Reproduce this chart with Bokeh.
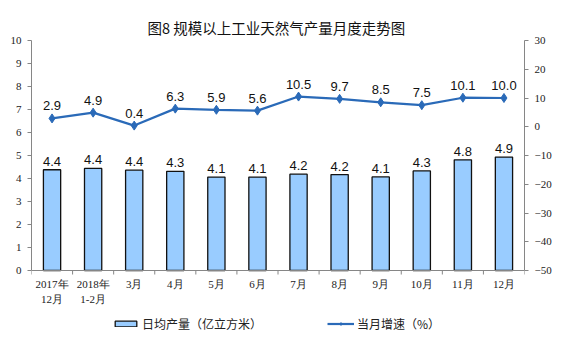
from bokeh.plotting import figure
from bokeh.models import (ColumnDataSource, Range1d, LinearAxis, FixedTicker, Legend, LegendItem, Title, Span)
from bokeh.core.properties import value
from bokeh.embed import file_html
from bokeh.resources import INLINE

categories = ["2017年\n12月", "2018年\n1-2月", "3月", "4月", "5月", "6月", "7月", "8月", "9月", "10月", "11月", "12月"]
daily_output = [4.38, 4.44, 4.36, 4.31, 4.06, 4.06, 4.19, 4.17, 4.07, 4.33, 4.81, 4.93]
growth = [2.9, 4.9, 0.4, 6.3, 5.9, 5.6, 10.5, 9.7, 8.5, 7.5, 10.1, 10.0]
left_ticks = list(range(0, 11))
right_ticks = list(range(-50, 31, 10))

# layout geometry (pixels)
PLOT_H = 230          # height of the value area (0..10)
BELOW_H = 87          # room below the value area for category labels and legend
L_MIN, L_MAX = 0, 10
R_MIN, R_MAX = -50, 30
l_unit = (L_MAX - L_MIN) / PLOT_H
r_unit = (R_MAX - R_MIN) / PLOT_H

n = len(categories)
xs = [i + 0.5 for i in range(n)]
bounds = list(range(n + 1))
src = ColumnDataSource(dict(
    x=xs, cat=categories, zero=[0] * n, val=daily_output, vlab=[f"{v:.1f}" for v in daily_output],
    g=growth, glab=[f"{v:.1f}" for v in growth]))

p = figure(frame_width=493, frame_height=PLOT_H + BELOW_H,
           output_backend="svg", toolbar_location=None, x_axis_location=None, y_axis_location=None,
           x_range=Range1d(0, n), y_range=Range1d(L_MIN - BELOW_H * l_unit, L_MAX),
           min_border_left=31, min_border_right=37, min_border_top=40, min_border_bottom=0,
           background_fill_color="white", border_fill_color="white")
p.outline_line_color = None
p.grid.grid_line_color = None
p.extra_y_ranges = {"rate": Range1d(R_MIN - BELOW_H * r_unit, R_MAX)}

p.title = Title(text="图8  规模以上工业天然气产量月度走势图", align="center",
                text_font="Noto Sans CJK SC", text_font_size="14.5px", text_font_style="normal",
                text_color="#111111", offset=0, standoff=5)

def style_axis(ax):
    ax.axis_line_color = "#868686"
    ax.major_tick_line_color = "#868686"
    ax.major_tick_out = 4
    ax.major_tick_in = 0
    ax.minor_tick_line_color = None
    ax.major_label_text_font = "Liberation Serif"
    ax.major_label_text_font_size = "11px"
    ax.major_label_text_color = "#222222"
    ax.major_label_standoff = 6

la = LinearAxis(ticker=FixedTicker(ticks=left_ticks), bounds=(L_MIN, L_MAX))
style_axis(la)
p.add_layout(la, "left")

ra = LinearAxis(y_range_name="rate", ticker=FixedTicker(ticks=right_ticks), bounds=(R_MIN, R_MAX))
style_axis(ra)
p.add_layout(ra, "right")

# category axis line, boundary ticks and labels
p.add_layout(Span(location=0, dimension="width", line_color="#868686", line_width=1))
p.segment(x0=bounds, y0=[0] * (n + 1), x1=bounds, y1=[-4 * l_unit] * (n + 1),
          line_color="#868686", line_width=1)
p.text(x="x", y="zero", text="cat", source=src, text_font=value("Liberation Serif"),
       text_font_size="11px", text_align="center", text_baseline="top", y_offset=7,
       text_color="#222222", text_line_height=1.25)

bars = p.vbar(x="x", top="val", width=0.42, source=src, fill_color="#99ccff",
              line_color="#111111", line_width=1.3)
p.text(x="x", y="val", text="vlab", source=src, text_font=value("Liberation Sans"),
       text_font_size="13px", text_align="center", text_baseline="bottom", y_offset=-4,
       text_color="#111111")

ln = p.line(x="x", y="g", source=src, y_range_name="rate", line_color="#2a6ab8", line_width=2.2)
mk = p.scatter(x="x", y="g", source=src, y_range_name="rate", marker="diamond", size=9,
               fill_color="#2a6ab8", line_color="#2a6ab8")
p.text(x="x", y="g", text="glab", source=src, y_range_name="rate", text_font=value("Liberation Sans"),
       text_font_size="13px", text_align="center", text_baseline="bottom", y_offset=-8,
       text_color="#111111")

legend = Legend(items=[LegendItem(label="日均产量（亿立方米）", renderers=[bars]),
                       LegendItem(label="当月增速（%）", renderers=[ln, mk])],
                orientation="horizontal", location=(81, 25),
                label_text_font="Noto Sans CJK SC", label_text_font_size="12px",
                label_text_color="#222222", spacing=65, glyph_width=27, glyph_height=7,
                border_line_color=None, background_fill_alpha=0, padding=0, margin=0,
                label_standoff=3, label_height=14)
p.add_layout(legend, "center")

open("out.html", "w").write(file_html(p, INLINE))
